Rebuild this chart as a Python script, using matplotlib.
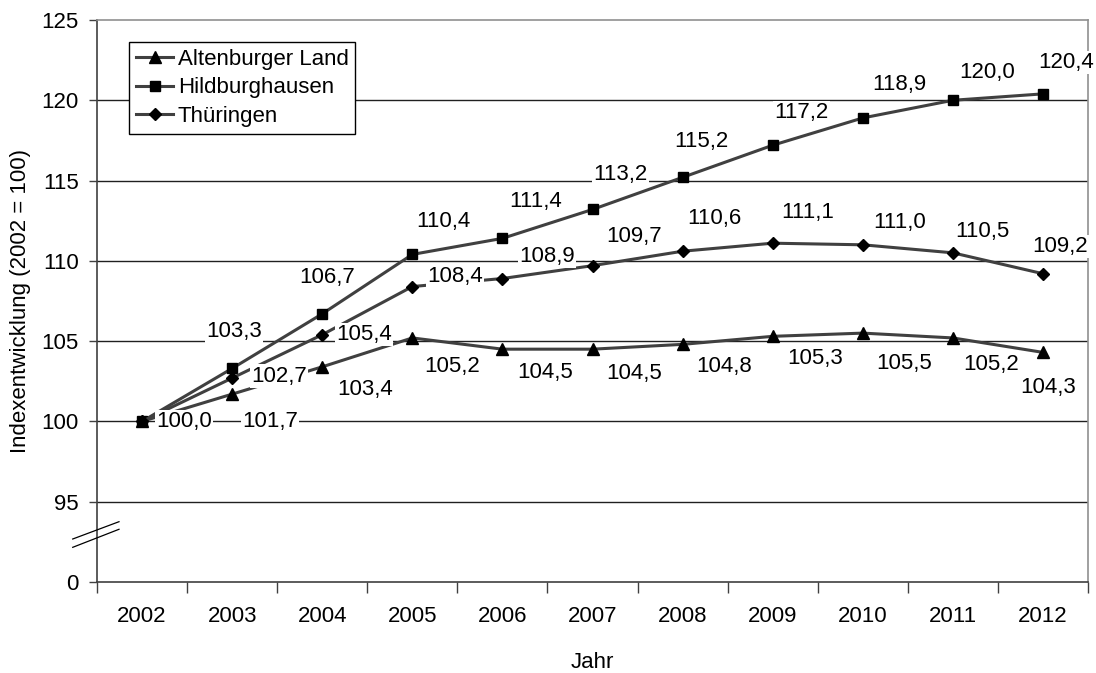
import matplotlib.pyplot as plt
import numpy as np

plt.rcParams["font.family"] = ["Liberation Sans", "DejaVu Sans"]

# Data (index 2002 = 100)
years = ["2002", "2003", "2004", "2005", "2006", "2007", "2008", "2009", "2010", "2011", "2012"]
altenburger = [100.0, 101.7, 103.4, 105.2, 104.5, 104.5, 104.8, 105.3, 105.5, 105.2, 104.3]
hildburghausen = [100.0, 103.3, 106.7, 110.4, 111.4, 113.2, 115.2, 117.2, 118.9, 120.0, 120.4]
thueringen = [100.0, 102.7, 105.4, 108.4, 108.9, 109.7, 110.6, 111.1, 111.0, 110.5, 109.2]

y_ticks = [90, 95, 100, 105, 110, 115, 120, 125]
y_ticklabels = ["0", "95", "100", "105", "110", "115", "120", "125"]

# label offsets in pixels (dx, dy), dy positive = up
off_alt = [(42, 0), (38, -27), (43, -23), (40, -29), (43, -23), (42, -24),
           (42, -22), (42, -22), (41, -30), (38, -27), (5, -35)]
off_hild = [None, (2, 37), (5, 36), (31, 33), (33, 37), (28, 35),
            (19, 36), (29, 33), (37, 33), (34, 28), (23, 31)]
off_thu = [None, (47, 2), (42, 0), (43, 10), (45, 22), (42, 29),
           (32, 33), (35, 31), (37, 22), (30, 21), (17, 27)]

LINE_COLOR = "#404040"
FS = 16

fig = plt.figure(figsize=(10.96, 6.73), dpi=100)
ax = fig.add_axes([97 / 1096, 91 / 673, 991 / 1096, 562 / 673])

x = np.arange(len(years))

series = [
    ("Altenburger Land", altenburger, "^", 9, off_alt),
    ("Hildburghausen", hildburghausen, "s", 7.5, off_hild),
    ("Thüringen", thueringen, "D", 6.5, off_thu),
]

for name, vals, marker, ms, offs in series:
    ax.plot(x, vals, color=LINE_COLOR, linewidth=2.2, marker=marker,
            markersize=ms, markerfacecolor="black", markeredgecolor="black",
            label=name, zorder=3, clip_on=False)

for name, vals, marker, ms, offs in series:
    for xi, v, off in zip(x, vals, offs):
        if off is None:
            continue
        ax.annotate(f"{v:.1f}".replace(".", ","), (xi, v),
                    textcoords="offset pixels", xytext=off,
                    ha="center", va="center", fontsize=FS, color="black",
                    bbox=dict(boxstyle="square,pad=0.05", fc="white", ec="none"),
                    zorder=4, annotation_clip=False)

ax.set_xlim(-0.5, len(years) - 0.5)
ax.set_ylim(90, 125)
ax.set_yticks(y_ticks)
ax.set_yticklabels(y_ticklabels)
ax.set_xticks(np.arange(len(years) + 1) - 0.5)
ax.set_xticklabels([])
ax.set_xticks(x, minor=True)
ax.set_xticklabels(years, minor=True)
ax.tick_params(axis="x", which="minor", length=0, pad=17, labelsize=FS)
ax.tick_params(axis="x", which="major", length=8, width=1, color=LINE_COLOR)
ax.tick_params(axis="y", length=6, width=1, color=LINE_COLOR, pad=7, labelsize=FS)

for yv in y_ticks[1:-1]:
    ax.axhline(yv, color="#202020", linewidth=1, zorder=1)

ax.spines["left"].set_color(LINE_COLOR)
ax.spines["bottom"].set_color(LINE_COLOR)
ax.spines["top"].set_color("#909090")
ax.spines["right"].set_color("#909090")
for s in ax.spines.values():
    s.set_linewidth(1.2)

# axis break marks
for y0, y1 in [(0.0765, 0.1073), (0.0617, 0.0938)]:
    ax.plot([-0.0245, 0.0222], [y0, y1], color="black", linewidth=0.9,
            transform=ax.transAxes, clip_on=False, zorder=5)

ax.set_xlabel("Jahr", fontsize=FS, labelpad=18)
ax.set_ylabel("Indexentwicklung (2002 = 100)", fontsize=FS, labelpad=8)

leg = ax.legend(loc="upper left", bbox_to_anchor=(0.0323, 0.961), fontsize=FS,
                frameon=True, fancybox=False, edgecolor="black", framealpha=1,
                handlelength=1.7, handletextpad=0.2, labelspacing=0.35,
                borderpad=0.3, borderaxespad=0)
leg.get_frame().set_linewidth(1)

fig.savefig("out.png", dpi=100)
